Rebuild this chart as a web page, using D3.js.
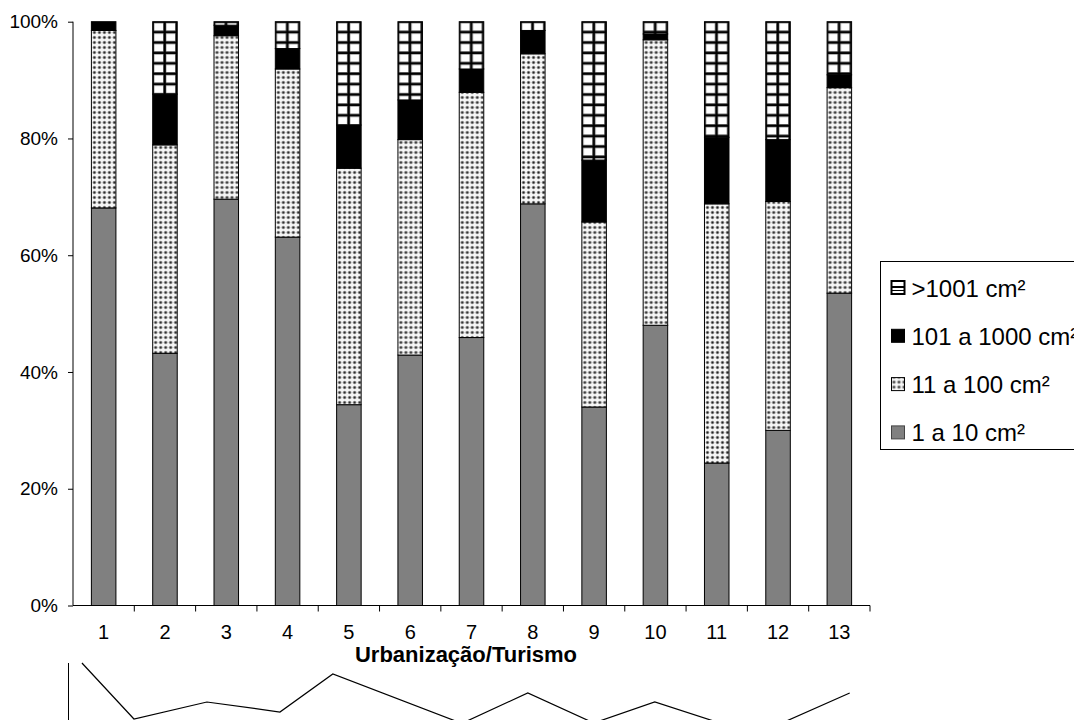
<!DOCTYPE html>
<html>
<head>
<meta charset="utf-8">
<script src="https://cdn.jsdelivr.net/npm/d3@7/dist/d3.min.js"></script>
<style>
  html, body { margin: 0; padding: 0; background: #fff; overflow: hidden; }
  svg { display: block; font-family: "Liberation Sans", Arial, sans-serif; }
</style>
</head>
<body>
<svg id="chart" width="1074" height="720"></svg>
<script>
// ---- data ----
const categories = ["1","2","3","4","5","6","7","8","9","10","11","12","13"];
const seriesNames = ["1 a 10 cm²", "11 a 100 cm²", "101 a 1000 cm²", ">1001 cm²"];
const s1a10     = [68.1, 43.2, 69.6, 63.1, 34.4, 42.9, 45.9, 68.8, 34.0, 48.0, 24.4, 30.0, 53.5];
const s11a100   = [30.4, 35.7, 28.0, 28.8, 40.5, 36.9, 42.0, 25.7, 31.7, 48.9, 44.4, 39.2, 35.2];
const s101a1000 = [1.5, 8.7, 1.8, 3.5, 7.4, 6.8, 4.0, 4.0, 10.6, 1.0, 11.4, 10.6, 2.2];
const sOver1001 = [0.0, 12.4, 0.6, 4.6, 17.7, 13.4, 8.1, 1.5, 23.7, 2.1, 19.8, 20.2, 9.1];
const yTicks = [0, 20, 40, 60, 80, 100];
const xTitle = "Urbanização/Turismo";
// second (clipped) chart below: positions in category units, values
const lowerX = [0.646, 1.494, 2.684, 3.875, 4.738, 6.842, 7.918, 8.994, 9.989, 11.636, 13.169];
const lowerV = [100, 44, 61, 51, 89, 39.6, 70, 40, 61, 28.4, 70];

const svg = d3.select("#chart");
const defs = svg.append("defs");

const plot = {left: 73, right: 870, top: 21.7, bottom: 605.5};
const x = d3.scaleBand().domain(categories).range([plot.left, plot.right]).paddingInner(0.6).paddingOuter(0.3);
const y = d3.scaleLinear().domain([0, 100]).range([plot.bottom, plot.top]);

// patterns: dotted and grid, one pattern per bar aligned to bar x
function makeDots(id, ox, oy) {
  const p = defs.append("pattern").attr("id", id).attr("patternUnits", "userSpaceOnUse")
    .attr("width", 5).attr("height", 5).attr("x", ox).attr("y", oy);
  p.append("rect").attr("width", 5).attr("height", 5).attr("fill", "#f6f6f6");
  p.append("circle").attr("cx", 2.5).attr("cy", 2.5).attr("r", 1.8).attr("fill", "#9a9a9a");
  p.append("circle").attr("cx", 2.5).attr("cy", 2.5).attr("r", 1.0).attr("fill", "#222");
}
function makeGrid(id, ox, oy) {
  const w = 12, h = 10.4;
  const p = defs.append("pattern").attr("id", id).attr("patternUnits", "userSpaceOnUse")
    .attr("width", w).attr("height", h).attr("x", ox).attr("y", oy);
  p.append("rect").attr("width", w).attr("height", h).attr("fill", "#fff");
  p.append("rect").attr("x", 0).attr("y", 0).attr("width", 3.4).attr("height", h).attr("fill", "#888");
  p.append("rect").attr("x", 0).attr("y", 0).attr("width", w).attr("height", 3.4).attr("fill", "#888");
  p.append("rect").attr("x", 0.6).attr("y", 0).attr("width", 2.2).attr("height", h).attr("fill", "#000");
  p.append("rect").attr("x", 0).attr("y", 0.6).attr("width", w).attr("height", 2.2).attr("fill", "#000");
}

const series = [s1a10, s11a100, s101a1000, sOver1001];
const rows = categories.map((c, i) => {
  const r = {cat: c};
  seriesNames.forEach((n, k) => r[n] = series[k][i]);
  return r;
});
const stack = d3.stack().keys(seriesNames)(rows);

categories.forEach((c, i) => {
  makeDots("dots" + i, x(c) + 0.5, 0);
  makeGrid("grid" + i, x(c) - 1.7, plot.top - 1.7);
});
makeDots("dotsLeg", 0, 0);

function fillFor(k, i) {
  if (k === 0) return "#808080";
  if (k === 1) return "url(#dots" + i + ")";
  if (k === 2) return "#000";
  return "url(#grid" + i + ")";
}

// bars
stack.forEach((layer, k) => {
  svg.append("g").selectAll("rect").data(layer).join("rect")
    .attr("x", (d, i) => x(categories[i]))
    .attr("width", x.bandwidth())
    .attr("y", d => y(d[1]))
    .attr("height", d => Math.max(0, y(d[0]) - y(d[1])))
    .attr("fill", (d, i) => fillFor(k, i))
    .attr("stroke", "#000")
    .attr("stroke-width", (d) => (d[1] - d[0]) > 0 ? 1 : 0);
});

// y axis
const yAxis = d3.axisLeft(y).tickValues(yTicks).tickFormat(d => d + "%").tickSize(5).tickPadding(10);
const gy = svg.append("g").attr("transform", `translate(${plot.left},0)`).call(yAxis);
gy.select(".domain").attr("d", `M0,${plot.top}V${plot.bottom}`).attr("stroke", "#000");
gy.selectAll("text").attr("font-size", 19).attr("fill", "#000");
gy.selectAll(".tick line").attr("stroke", "#000");

// x axis: ticks between categories
const gx = svg.append("g").attr("transform", `translate(0,${plot.bottom})`);
const xAxis = d3.axisBottom(x).tickSize(0).tickPadding(19);
gx.call(xAxis);
gx.select(".domain").attr("d", `M${plot.left},0H${plot.right}`).attr("stroke", "#000");
gx.selectAll("text").attr("font-size", 20).attr("fill", "#000");
const step = x.step();
gx.selectAll("line.sep").data(categories).join("line").attr("class", "sep")
  .attr("x1", (d) => x(d) + x.bandwidth() / 2 + step / 2)
  .attr("x2", (d) => x(d) + x.bandwidth() / 2 + step / 2)
  .attr("y1", 0).attr("y2", 6).attr("stroke", "#000");

svg.append("text").attr("x", 466).attr("y", 662).attr("text-anchor", "middle")
  .attr("font-size", 22).attr("font-weight", "bold").text(xTitle);

// legend
const leg = svg.append("g").attr("transform", "translate(880.5,261.5)");
leg.append("rect").attr("x", 0).attr("y", 0).attr("width", 300).attr("height", 188)
  .attr("fill", "#fff").attr("stroke", "#000").attr("stroke-width", 1);
const legOrder = [3, 2, 1, 0];
const legFill = ["#808080", "url(#dotsLeg)", "#000", "#fff"];
legOrder.forEach((k, j) => {
  const cy = 26.5 + j * 48.3;
  const g = leg.append("g").attr("transform", `translate(11,${cy})`);
  g.append("rect").attr("x", 0).attr("y", -7).attr("width", 13).attr("height", 13)
    .attr("fill", legFill[k]).attr("stroke", k === 0 ? "#444" : "#000").attr("stroke-width", k === 3 ? 2 : 1);
  if (k === 3) {
    g.append("line").attr("x1", 0).attr("x2", 13).attr("y1", -1).attr("y2", -1).attr("stroke", "#000").attr("stroke-width", 2);
    g.append("line").attr("x1", 0).attr("x2", 13).attr("y1", 2.5).attr("y2", 2.5).attr("stroke", "#000").attr("stroke-width", 1);
  }
  g.append("text").attr("x", 20).attr("y", 8.5).attr("font-size", 24).attr("fill", "#000").text(seriesNames[k]);
});

// lower clipped chart
const xl = d3.scaleLinear().domain([1, 13]).range([x("1") + x.bandwidth() / 2, x("13") + x.bandwidth() / 2]);
const yl = d3.scaleLinear().domain([0, 100]).range([763, 663]);
svg.append("line").attr("x1", 68.5).attr("x2", 68.5).attr("y1", yl(100)).attr("y2", yl(0)).attr("stroke", "#000");
svg.append("path").datum(lowerX.map((v, i) => [v, lowerV[i]]))
  .attr("d", d3.line().x(d => xl(d[0])).y(d => yl(d[1])))
  .attr("fill", "none").attr("stroke", "#000").attr("stroke-width", 1.2);
</script>
</body>
</html>
